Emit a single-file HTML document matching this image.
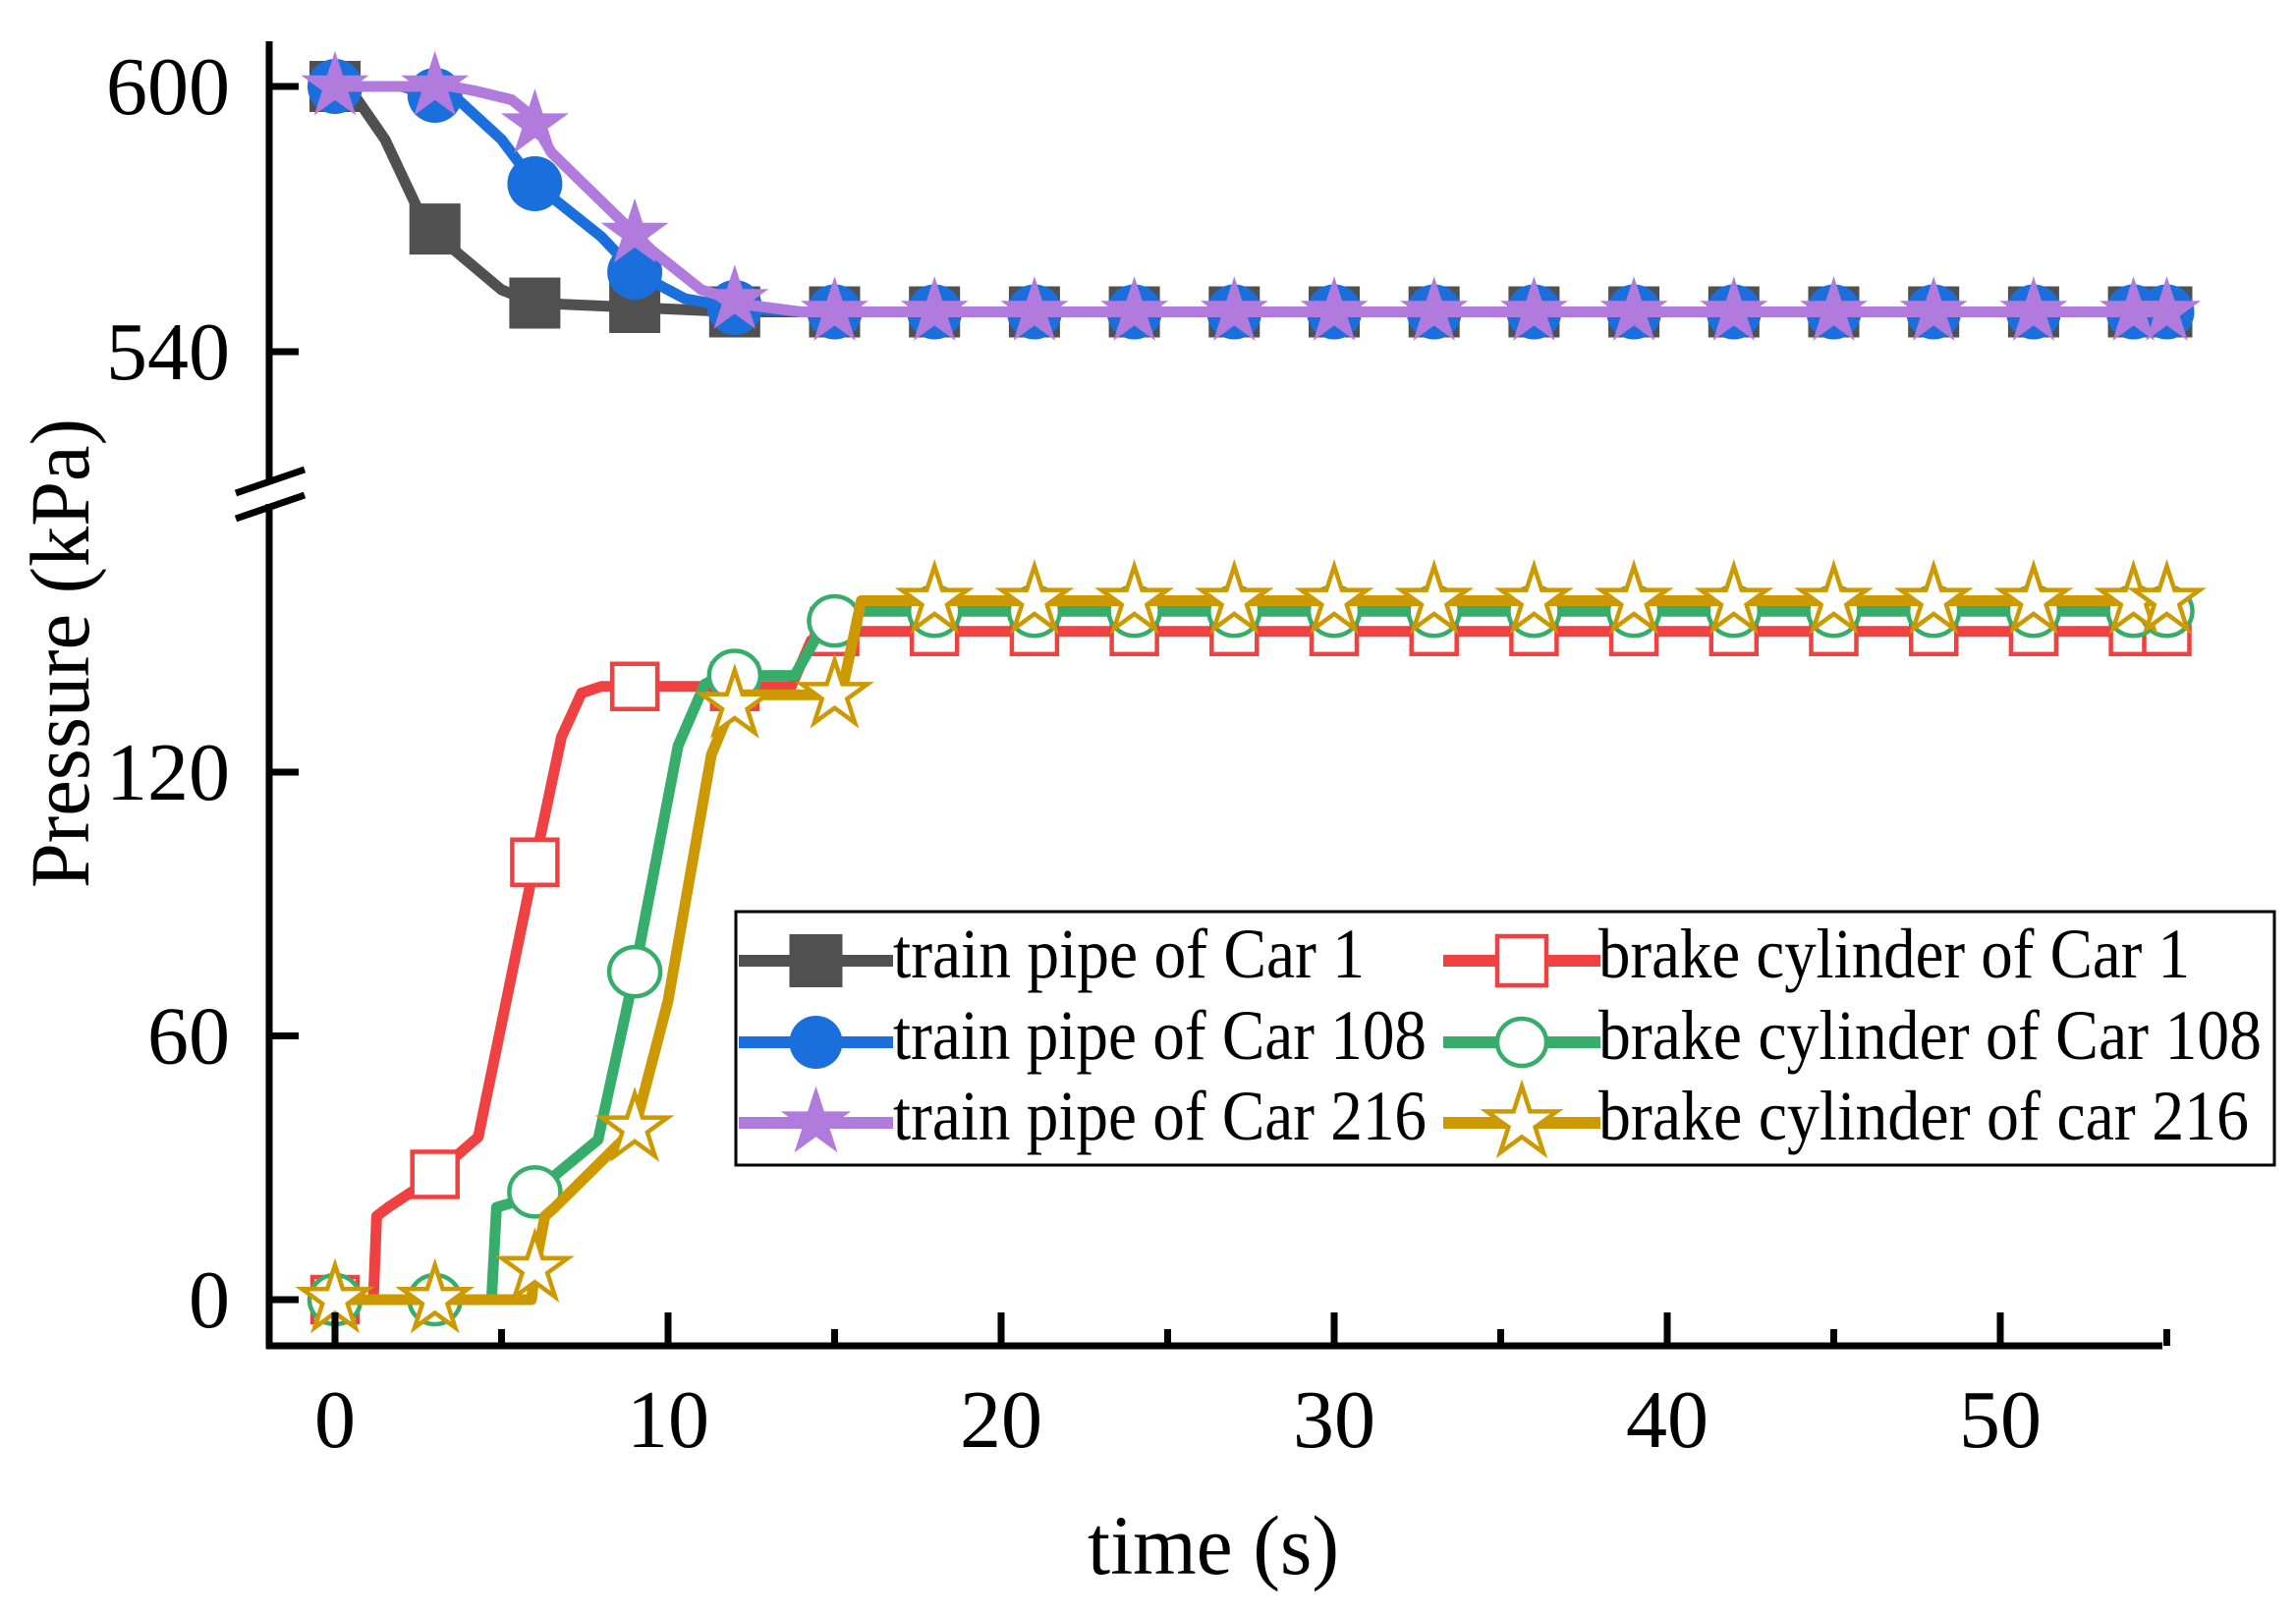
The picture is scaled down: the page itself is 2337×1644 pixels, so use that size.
<!DOCTYPE html>
<html><head><meta charset="utf-8"><style>
html,body{margin:0;padding:0;background:#fff}
svg{display:block}
text{font-family:"Liberation Serif",serif;fill:#000}
</style></head><body>
<svg id="chart" width="2337" height="1644" viewBox="0 0 2337 1644" xmlns="http://www.w3.org/2000/svg">
<g id="plot"></g>
<g id="axes"></g>
<g id="legend"></g>
</svg>
<script>
// ---- data ----
const tpCar1T = [0,0.4,1.5,2.5,3.5,5,6,9,12,15,55];
const tpCar1V = [600,600,588,572,563.5,554,551,550,549,549,549];
const tpCar108T = [0,2,3,3.7,5,6,8,9,10.5,12,14,55];
const tpCar108V = [600,600,598,597,588,578,566,558,552,550,549,549];
const tpCar216T = [0,3.5,4.2,5.3,5.8,6.5,8,9.5,11,12.5,14,55];
const tpCar216V = [600,600,599,597,594,585,574,563,554,550.5,549,549];
const bcCar1T = [0,1.15,1.25,1.6,2.4,3,4.3,6,6.8,7.4,8,13.7,14.3,14.8,55];
const bcCar1V = [0,0,19,21,25,28.5,37,99.5,128,138,139.5,139.5,150,152,152];
const bcCar108T = [0,4.7,4.85,5.3,6,7.9,9,10.3,11.1,11.6,13.8,14.4,15.3,55];
const bcCar108V = [0,0,21,22,24.5,36.4,74.6,126,140,142,142,150,156.6,156.6];
const bcCar216T = [0,5.9,6.0,6.3,6.6,9,10,11.3,11.8,12.2,15.2,15.8,55];
const bcCar216V = [0,0,7,19,21,39,68,124,133,137.6,137.6,159,159];
const markerTimes = [0,3,6,9,12,15,18,21,24,27,30,33,36,39,42,45,48,51,54,55];
const xTicks = [0,10,20,30,40,50];
const xMinor = [5,15,25,35,45,55];
const yTicksUpper = [540,600];
const yTicksLower = [0,60,120];

// ---- scales ----
const X = t => 341 + 33.9*t;
const Yu = v => 88 + (600 - v)*4.5;
const Yl = v => 1323 - 4.475*v;
const NS = 'http://www.w3.org/2000/svg';
function mk(tag, attrs, parent){const e=document.createElementNS(NS,tag);for(const k in attrs)e.setAttribute(k,attrs[k]);parent.appendChild(e);return e;}
function interp(ts,vs,t){for(let i=0;i<ts.length-1;i++){if(t<=ts[i+1])return vs[i]+(vs[i+1]-vs[i])*(t-ts[i])/(ts[i+1]-ts[i]);}return vs[vs.length-1];}
const plot=document.getElementById('plot');
function marker(kind,color,cx,cy,parent,sz){
  let e;
  if(kind==='sq'){e=mk('rect',{x:cx-sz/2,y:cy-sz/2,width:sz,height:sz,fill:color},parent);}
  else if(kind==='sqo'){e=mk('rect',{x:cx-sz/2+2,y:cy-sz/2+2,width:sz-4,height:sz-4,fill:'#fff',stroke:color,'stroke-width':4.5},parent);}
  else if(kind==='ci'){e=mk('ellipse',{cx:cx,cy:cy,rx:sz/2,ry:sz/2,fill:color},parent);}
  else if(kind==='cio'){e=mk('ellipse',{cx:cx,cy:cy,rx:sz/2-2,ry:sz/2-3,fill:'#fff',stroke:color,'stroke-width':4.5},parent);}
  else {
    let p=[];for(let i=0;i<10;i++){const r=i%2?sz*0.21:sz*0.55;const a=-Math.PI/2+i*Math.PI/5;p.push((cx+r*Math.cos(a)).toFixed(1)+','+(cy+r*Math.sin(a)).toFixed(1));}
    e=kind==='st'?mk('polygon',{points:p.join(' '),fill:color},parent):mk('polygon',{points:p.join(' '),fill:'#fff',stroke:color,'stroke-width':4.5,'stroke-linejoin':'miter'},parent);
  }
  return e;
}
const series=[
 {name:'bc-car1',T:bcCar1T,V:bcCar1V,Y:Yl,c:'#ef4141',m:'sqo',sz:50},
 {name:'bc-car108',T:bcCar108T,V:bcCar108V,Y:Yl,c:'#36ad6a',m:'cio',sz:56},
 {name:'bc-car216',T:bcCar216T,V:bcCar216V,Y:Yl,c:'#cc9900',m:'sto',sz:64},
 {name:'tp-car1',T:tpCar1T,V:tpCar1V,Y:Yu,c:'#505050',m:'sq',sz:52},
 {name:'tp-car108',T:tpCar108T,V:tpCar108V,Y:Yu,c:'#1a6fdc',m:'ci',sz:56},
 {name:'tp-car216',T:tpCar216T,V:tpCar216V,Y:Yu,c:'#b07bdc',m:'st',sz:66}
];
series.forEach(s=>{
  const g=mk('g',{},plot);
  
  
  const pts=s.T.map((t,i)=>X(t).toFixed(1)+','+s.Y(s.V[i]).toFixed(1)).join(' ');
  const l=mk('polyline',{points:pts,fill:'none',stroke:s.c,'stroke-width':11,'stroke-linejoin':'round','stroke-linecap':'round'},g);
  
  
  markerTimes.forEach(t=>{
    const m=marker(s.m,s.c,X(t),s.Y(interp(s.T,s.V,t)),g,s.sz);
    
    
  });
});
// ---- axes ----
const ax=document.getElementById('axes');
let a=mk('line',{x1:274,y1:42,x2:274,y2:1373,stroke:'#000','stroke-width':7},ax);


a=mk('line',{x1:271,y1:1370,x2:2201,y2:1370,stroke:'#000','stroke-width':7},ax);


mk('rect',{x:262,y:493,width:30,height:20,fill:'#fff'},ax);
a=mk('line',{x1:240,y1:502,x2:310,y2:478,stroke:'#000','stroke-width':7},ax);


a=mk('line',{x1:240,y1:528,x2:310,y2:504,stroke:'#000','stroke-width':7},ax);


xTicks.forEach(t=>{
  mk('line',{x1:X(t),y1:1370,x2:X(t),y2:1336,stroke:'#000','stroke-width':7},ax);
  const tx=mk('text',{x:X(t),y:1473,'font-size':84,'text-anchor':'middle'},ax);
  tx.textContent=t;
  
  
});
xMinor.forEach(t=>{mk('line',{x1:X(t),y1:1370,x2:X(t),y2:1353,stroke:'#000','stroke-width':7},ax);});
function ytick(y,v){
  mk('line',{x1:274,y1:y,x2:304,y2:y,stroke:'#000','stroke-width':7},ax);
  const tx=mk('text',{x:234,y:y+28,'font-size':84,'text-anchor':'end'},ax);
  tx.textContent=v;
  
  
}
yTicksUpper.forEach(v=>ytick(Yu(v),v));
yTicksLower.forEach(v=>ytick(Yl(v),v));
let tt=mk('text',{x:0,y:0,'font-size':86,'text-anchor':'middle',textLength:478,lengthAdjust:'spacingAndGlyphs',transform:'translate(90 665) rotate(-90)'},ax);
tt.textContent='Pressure (kPa)';


tt=mk('text',{x:1235,y:1602,'font-size':86,'text-anchor':'middle',textLength:256,lengthAdjust:'spacingAndGlyphs'},ax);
tt.textContent='time (s)';


// ---- legend ----
const lg=document.getElementById('legend');
const lb=mk('rect',{x:749,y:928,width:1566,height:258,fill:'#fff',stroke:'#000','stroke-width':3},lg);


const legendLabels=['train pipe of Car 1','train pipe of Car 108','train pipe of Car 216','brake cylinder of Car 1','brake cylinder of Car 108','brake cylinder of car 216'];
const legendOrder=[3,4,5,0,1,2];
const legendLens=[480,543,543,602,675,662];
legendOrder.forEach((si,i)=>{
  const s=series[si];const col=Math.floor(i/3),row=i%3;
  const x0=col?1469:752, x1=col?1629:909, cy=[978,1061,1143][row];
  const g=mk('g',{},lg);
  
  
  mk('line',{x1:x0,y1:cy,x2:x1,y2:cy,stroke:s.c,'stroke-width':12},g);
  marker(s.m,s.c,(x0+x1)/2,cy,g,s.m==='st'||s.m==='sto'?68:54);
  const t=mk('text',{x:col?1627:909,y:cy+17,'font-size':72,textLength:legendLens[i],lengthAdjust:'spacingAndGlyphs'},g);
  t.textContent=legendLabels[i];
});
</script>
</body></html>
